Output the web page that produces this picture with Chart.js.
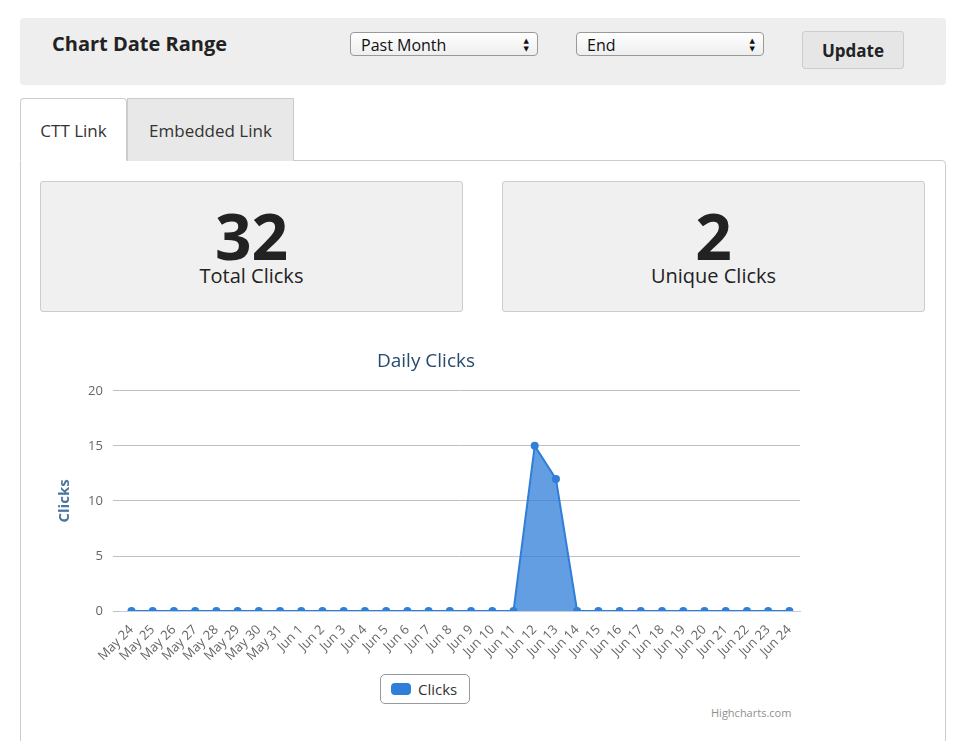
<!DOCTYPE html>
<html>
<head>
<meta charset="utf-8">
<script src="https://cdn.jsdelivr.net/npm/chart.js@4"></script>
<style>
  body { margin: 0; background: #fff; font-family: "Open Sans", "DejaVu Sans", sans-serif; width: 960px; height: 741px; overflow: hidden; position: relative; }
  .topbar { position: absolute; left: 20px; top: 18px; width: 926px; height: 67px; background: #eeeeee; border-radius: 4px; }
  .topbar h3 { position: absolute; left: 32px; top: 12px; margin: 0; font-size: 20px; font-weight: bold; color: #222; }
  .sel { position: absolute; top: 14px; height: 24px; border: 1px solid #999; border-radius: 4px; background: linear-gradient(#fff, #eee); font-size: 16px; line-height: 24px; padding-left: 10px; box-sizing: border-box; color: #111; }
  .sel span { position: absolute; right: 8px; top: 4px; font-size: 7px; line-height: 8px; }
  .btn { position: absolute; left: 782px; top: 13px; width: 102px; height: 38px; border: 1px solid #ccc; border-radius: 3px; background: #e6e6e6; font-size: 17px; font-weight: bold; text-align: center; line-height: 38px; color: #222; box-sizing: border-box; }
  .tab { position: absolute; top: 98px; height: 63px; font-size: 17px; line-height: 63px; text-align: center; box-sizing: border-box; color: #333; }
  .panel { position: absolute; left: 20px; top: 160px; width: 926px; height: 600px; border: 1px solid #ccc; border-radius: 0 4px 0 0; box-sizing: border-box; }
  .stat { position: absolute; top: 181px; width: 423px; height: 131px; background: #f0f0f0; border: 1px solid #ccc; border-radius: 3px; box-sizing: border-box; text-align: center; color: #222; }
  .stat .n { font-size: 64px; font-weight: bold; line-height: 64px; margin-top: 22px; }
  .stat .l { font-size: 20px; margin-top: -6px; }
  #wrap { position: absolute; left: 40px; top: 340px; width: 780px; height: 327px; }
  .legend { position: absolute; left: 380px; top: 674px; width: 90px; height: 30px; border: 1px solid #999; border-radius: 5px; box-sizing: border-box; font-size: 15px; line-height: 28px; color: #333; }
  .legend i { position: absolute; left: 10px; top: 8px; width: 20px; height: 12px; border-radius: 4px; background: #2f7ed8; }
  .legend span { position: absolute; left: 37px; }
  .credit { position: absolute; left: 711px; top: 705px; font-size: 11px; color: #909090; }
</style>
</head>
<body>
<div class="topbar">
  <h3>Chart Date Range</h3>
  <div class="sel" style="left:330px;width:188px;">Past Month<span>&#9650;<br>&#9660;</span></div>
  <div class="sel" style="left:556px;width:188px;">End<span>&#9650;<br>&#9660;</span></div>
  <div class="btn">Update</div>
</div>
<div class="panel"></div>
<div class="tab" style="left:20px;width:107px;border:1px solid #ccc;border-bottom:1px solid #fff;border-radius:4px 4px 0 0;background:#fff;">CTT Link</div>
<div class="tab" style="left:127px;width:167px;border:1px solid #ccc;border-bottom:none;background:#e8e8e8;">Embedded Link</div>
<div class="stat" style="left:40px;"><div class="n">32</div><div class="l">Total Clicks</div></div>
<div class="stat" style="left:502px;"><div class="n">2</div><div class="l">Unique Clicks</div></div>
<div id="wrap"><canvas id="c"></canvas></div>
<div class="legend"><i></i><span>Clicks</span></div>
<div class="credit">Highcharts.com</div>
<script>
const days = ['May 24','May 25','May 26','May 27','May 28','May 29','May 30','May 31',
  'Jun 1','Jun 2','Jun 3','Jun 4','Jun 5','Jun 6','Jun 7','Jun 8','Jun 9','Jun 10','Jun 11',
  'Jun 12','Jun 13','Jun 14','Jun 15','Jun 16','Jun 17','Jun 18','Jun 19','Jun 20','Jun 21',
  'Jun 22','Jun 23','Jun 24'];
const clicks = [0,0,0,0,0,0,0,0,0,0,0,0,0,0,0,0,0,0,0,15,12,0,0,0,0,0,0,0,0,0,0,0];
const yTicks = [0, 5, 10, 15, 20];

new Chart(document.getElementById('c'), {
  type: 'line',
  data: {
    labels: days,
    datasets: [{
      label: 'Clicks',
      data: clicks,
      borderColor: '#2f7ed8',
      backgroundColor: 'rgba(47,126,216,0.75)',
      borderWidth: 2,
      fill: true,
      tension: 0,
      pointRadius: 4,
      pointBackgroundColor: '#2f7ed8',
      pointBorderWidth: 0
    }]
  },
  options: {
    responsive: true,
    maintainAspectRatio: false,
    animation: false,
    layout: { padding: { left: 12, right: 20, top: 0, bottom: 0 } },
    plugins: {
      legend: { display: false },
      tooltip: { enabled: false },
      title: { display: true, text: 'Daily Clicks', color: '#274b6d', font: { size: 19, weight: 'normal', family: 'Open Sans' }, padding: { top: 10, bottom: 18 } },
    },
    scales: {
      x: {
        offset: true,
        grid: { display: false },
        border: { color: '#C0D0E0' },
        ticks: { autoSkip: false, maxRotation: 45, minRotation: 45, color: '#666', font: { size: 13, family: 'Open Sans' } }
      },
      y: {
        min: 0, max: 20,
        afterBuildTicks: ax => { ax.ticks = yTicks.map(v => ({ value: v })); },
        grid: { color: '#C0C0C0' },
        border: { display: false },
        ticks: { color: '#666', font: { size: 13, family: 'Open Sans' }, padding: 10 },
        title: { display: true, text: 'Clicks', color: '#4d759e', font: { size: 15, weight: 'bold', family: 'Open Sans' } }
      }
    }
  }
});
</script>
</body>
</html>
